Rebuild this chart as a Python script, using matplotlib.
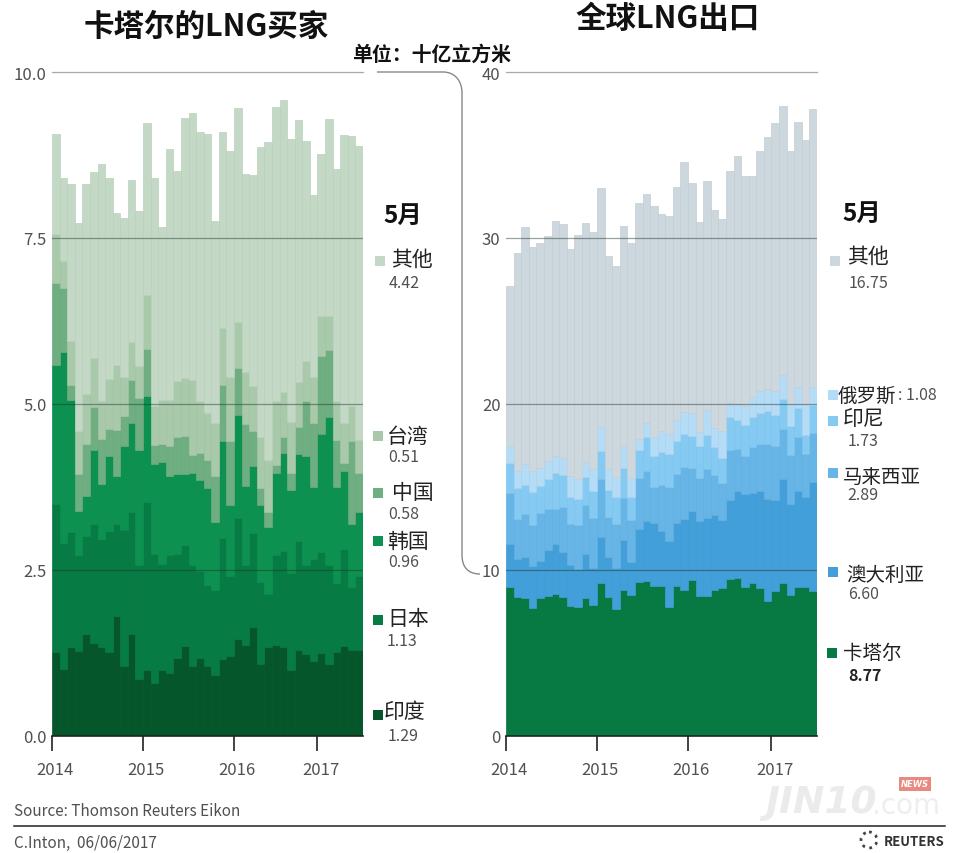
import matplotlib
matplotlib.use("Agg")
import matplotlib.pyplot as plt
import numpy as np
from matplotlib.colors import to_rgb
from matplotlib.patches import PathPatch, Rectangle
from matplotlib.path import Path
from matplotlib.transforms import ScaledTranslation

plt.rcParams['font.family'] = ['Noto Sans CJK SC', 'DejaVu Sans']

# monthly data Jan 2014 - May 2017, read as top of each stacked layer
year_ticks = [0, 12, 24, 35]
year_labels = ["2014", "2015", "2016", "2017"]

india = [1.26,1.01,1.34,1.28,1.54,1.40,1.34,1.26,1.81,1.05,1.53,0.86,1.00,0.80,1.00,0.95,1.17,1.36,1.05,1.17,1.05,
         0.92,1.16,1.20,1.46,1.37,1.64,1.08,1.34,1.37,1.34,1.00,1.30,1.24,1.13,1.25,1.08,1.26,1.36,1.29,1.29]
japan = [3.49,2.91,3.07,2.72,3.01,3.19,2.96,3.08,3.19,3.10,3.37,2.57,3.52,2.74,2.59,2.72,2.74,2.87,2.57,2.49,2.28,
         2.20,2.98,2.41,3.28,2.58,3.06,2.32,2.14,2.72,2.79,2.45,2.93,2.58,2.66,2.77,2.58,2.30,2.82,2.25,2.41]
korea = [5.59,5.78,5.06,3.39,3.61,4.31,3.79,4.22,3.91,4.37,4.71,4.30,5.12,4.10,4.13,3.91,3.94,3.95,3.96,3.86,3.74,
         3.22,4.45,3.48,4.84,3.76,4.07,3.48,3.15,3.96,4.26,3.70,4.25,4.21,3.75,4.55,4.80,3.75,3.99,3.19,3.37]
china = [6.82,6.75,5.29,3.94,4.40,4.95,4.47,4.63,4.61,4.82,5.36,5.09,5.83,4.38,4.40,4.36,4.50,4.52,4.23,4.26,4.16,
         3.92,5.28,4.44,5.54,4.70,4.59,3.73,3.38,4.08,4.51,3.96,4.65,5.05,4.72,5.72,5.81,4.46,4.11,4.45,3.96]
taiwan = [7.56,7.15,5.95,4.60,5.15,5.69,5.05,5.38,5.59,5.41,5.93,5.57,6.64,4.97,5.06,5.06,5.35,5.39,5.36,5.04,4.86,
          4.72,6.14,5.40,6.23,5.48,5.27,4.50,4.16,5.04,5.18,4.73,5.33,5.65,5.40,6.33,6.33,5.05,4.71,4.97,4.46]
buyers_other = [9.06,8.41,8.32,7.73,8.31,8.50,8.61,8.41,7.88,7.80,8.37,7.90,9.23,8.40,7.67,8.84,8.51,9.31,9.39,9.10,9.07,
                7.76,9.10,8.81,9.46,8.46,8.45,8.87,8.94,9.47,9.58,8.99,9.27,8.96,8.15,8.76,9.29,8.54,9.05,9.04,8.88]

qatar = [9.00,8.37,8.29,7.71,8.29,8.45,8.57,8.37,7.85,7.75,8.33,7.89,9.20,8.35,7.63,8.82,8.49,9.28,9.36,9.06,9.02,
         7.75,9.06,8.78,9.42,8.43,8.41,8.82,8.90,9.46,9.52,8.96,9.22,8.90,8.11,8.71,9.24,8.47,9.00,8.96,8.71]
australia = [11.55,10.66,10.80,10.22,10.56,11.20,11.55,11.10,10.30,10.04,10.98,10.10,11.99,10.78,10.12,11.81,10.46,12.47,12.97,12.83,12.35,
             11.73,12.83,13.07,13.57,12.95,13.13,13.31,13.01,14.24,14.74,14.56,14.64,14.74,14.28,14.24,15.48,14.00,14.74,14.40,15.32]
malaysia = [14.64,13.07,13.37,12.71,13.43,13.65,13.67,13.80,12.77,12.71,13.92,13.11,15.48,13.19,12.77,14.34,13.01,15.52,15.94,15.00,15.12,
            15.00,15.78,16.18,16.14,15.54,16.08,15.70,15.24,17.23,17.29,16.85,17.39,17.57,17.59,17.47,18.47,16.93,18.01,16.99,18.23]
indonesia = [16.43,14.94,15.10,14.72,15.08,15.48,15.82,15.72,14.38,14.28,15.62,14.74,17.15,14.84,14.40,16.12,14.40,17.23,17.99,16.85,17.13,
             16.99,17.77,18.17,18.09,17.47,18.15,17.39,16.75,19.24,19.06,18.73,19.20,19.48,19.56,19.32,20.30,18.69,19.76,18.15,19.95]
russia = [17.49,15.94,16.37,15.94,16.12,16.55,16.85,16.73,15.64,15.48,16.49,16.08,18.59,16.08,15.58,17.45,15.56,17.91,18.86,17.99,18.35,
          18.19,19.06,19.50,19.46,18.29,19.64,18.53,18.35,20.06,20.00,19.90,20.40,20.80,20.90,20.80,21.75,20.00,21.00,20.00,21.00]
export_other = [27.13,29.10,30.68,29.44,29.68,30.12,31.00,30.84,29.36,30.20,30.90,30.34,32.99,28.90,28.33,30.70,29.70,32.09,32.63,31.95,31.45,
                31.34,33.05,34.56,33.31,30.98,33.45,31.69,31.14,34.04,34.96,33.75,33.71,35.24,36.10,36.93,37.95,35.24,36.97,35.88,37.77]

buyer_tops = [india, japan, korea, china, taiwan, buyers_other]
buyer_colors = ["#05562b", "#067b44", "#0c9150", "#6eae80", "#a9c9ab", "#c3d9c5"]
export_tops = [qatar, australia, malaysia, indonesia, russia, export_other]
export_colors = ["#067a42", "#429fd9", "#66b5e6", "#84caf3", "#b4dcf6", "#cdd7de"]

W, H = 956, 854
GREY = "#505050"


def stacked(box, tops, colors, ymax, yticks, ylabels):
    x0, x1 = box
    ax = fig.add_axes([x0 / W, (H - 737) / H, (x1 - x0) / W, 664 / H])
    months = np.arange(len(tops[0]))
    bottom = np.zeros(len(months))
    for top, color in zip(tops, colors):
        top = np.array(top)
        # edge a touch darker than the fill, so the white does not show between bars
        edge = tuple(c * 0.96 for c in to_rgb(color))
        ax.bar(months, top - bottom, bottom=bottom, width=1, align="edge", color=color,
               edgecolor=edge, linewidth=0.5, zorder=2)
        bottom = top
    for y in yticks[1:-1]:
        ax.axhline(y, color=(0.1, 0.2, 0.15, 0.45), lw=0.9, zorder=3)
    ax.axhline(yticks[-1], color="#a8a8a8", lw=0.9, zorder=3, clip_on=False)
    ax.set_xlim(0, len(months))
    ax.set_ylim(0, ymax)
    ax.set_yticks(yticks)
    ax.set_yticklabels(ylabels, fontsize=12, color=GREY)
    ax.tick_params(axis="y", length=0, pad=4)
    ax.set_xticks(year_ticks)
    ax.set_xticklabels(year_labels, fontsize=12, color=GREY)
    ax.tick_params(axis="x", length=11, width=1.2, color="#222222", pad=7)
    shift = ScaledTranslation(3 / 100, 0, fig.dpi_scale_trans)
    for lab in ax.get_xticklabels():
        lab.set_transform(lab.get_transform() + shift)
    for side in ["top", "right", "left"]:
        ax.spines[side].set_visible(False)
    ax.spines["bottom"].set_color("#222222")
    ax.spines["bottom"].set_linewidth(1.2)
    ax.patch.set_alpha(0)
    return ax


fig = plt.figure(figsize=(W / 100, H / 100), dpi=100)
stacked((52, 363), buyer_tops, buyer_colors, 10, [0, 2.5, 5, 7.5, 10], ["0.0", "2.5", "5.0", "7.5", "10.0"])
stacked((506, 817), export_tops, export_colors, 40, [0, 10, 20, 30, 40], ["0", "10", "20", "30", "40"])

# overlay in pixel coordinates for all the annotation
ov = fig.add_axes([0, 0, 1, 1], zorder=5)
ov.set_xlim(0, W)
ov.set_ylim(H, 0)
ov.axis("off")


def label(x, y, s, size=12, weight="normal", color=GREY, ha="left"):
    ov.text(x, y + 2, s, fontsize=size, fontweight=weight, color=color, ha=ha, va="center")


label(206, 25, "卡塔尔的LNG买家", 22, "bold", "#111111", "center")
label(668, 17, "全球LNG出口", 22, "bold", "#111111", "center")
label(432, 52, "单位：十亿立方米", 14.3, "bold", "#111111", "center")

# connector between the two panels
verts = [(377, 73), (443, 73), (455, 73), (462, 82), (462, 94), (462, 556), (462, 568), (468, 575), (480, 575)]
codes = [Path.MOVETO, Path.LINETO, Path.CURVE4, Path.CURVE4, Path.CURVE4, Path.LINETO, Path.CURVE4, Path.CURVE4, Path.CURVE4]
ov.add_patch(PathPatch(Path(verts, codes), fill=False, edgecolor="#888888", lw=1))

label(403, 214, "5月", 17.5, "bold", "#111111", "center")
label(862, 212, "5月", 17.5, "bold", "#111111", "center")

buyer_names = ["其他", "台湾", "中国", "韩国", "日本", "印度"]
buyer_vals = ["4.42", "0.51", "0.58", "0.96", "1.13", "1.29"]
buyer_sq = [(380, 262), (378, 437), (378, 494), (378, 542), (378, 621), (378, 716)]
buyer_txt = [(391, 258), (387, 435), (392, 491), (387, 540), (387, 617), (384, 710)]
buyer_val = [(389, 282), (388, 456), (388, 513), (388, 561), (387, 640), (388, 735)]
for i, name in enumerate(buyer_names):
    c = buyer_colors[::-1][i]
    ov.add_patch(Rectangle((buyer_sq[i][0] - 5, buyer_sq[i][1] - 5), 10, 10, color=c, lw=0))
    label(*buyer_txt[i], name, 15, color="#222222")
    label(*buyer_val[i], buyer_vals[i], 11.5)

export_names = ["其他", "俄罗斯", "印尼", "马来西亚", "澳大利亚", "卡塔尔"]
export_vals = ["16.75", ": 1.08", "1.73", "2.89", "6.60", "8.77"]
export_sq = [(835, 262), (833, 396), (833, 422), (833, 474), (833, 573), (832, 654)]
export_txt = [(847, 255), (838, 394), (843, 417), (843, 475), (846, 573), (843, 652)]
export_val = [(849, 282), (898, 394), (848, 440), (847, 494), (848, 593), (848, 674)]
for i, name in enumerate(export_names):
    c = export_colors[::-1][i]
    ov.add_patch(Rectangle((export_sq[i][0] - 5, export_sq[i][1] - 5), 10, 10, color=c, lw=0))
    label(*export_txt[i], name, 14 if i in (1, 3, 4, 5) else 15, color="#222222")
    if i == 5:
        label(*export_val[i], export_vals[i], 11.5, "bold", "#222222")
    else:
        label(*export_val[i], export_vals[i], 11.5)

# footer
label(14, 810, "Source: Thomson Reuters Eikon", 11)
ov.plot([14, 945], [827, 827], color="#222222", lw=1.1)
label(14, 841, "C.Inton,  06/06/2017", 11)
label(884, 840, "REUTERS", 9.5, "bold", "#333333")
ov.add_patch(plt.Circle((869, 841), 8, fill=False, edgecolor="#444444", lw=2, linestyle=":"))

# watermark
ov.text(765, 803, "JIN10", fontsize=27, fontstyle="oblique", fontweight="bold", family="DejaVu Sans", color="#ebebeb", va="center")
ov.text(872, 806, ".com", fontsize=20, color="#eeeeee", va="center", family="DejaVu Sans")
ov.text(915, 785, "NEWS", fontsize=6, fontstyle="oblique", fontweight="bold", family="DejaVu Sans", color="white", ha="center", va="center",
        bbox=dict(facecolor="#e88a80", edgecolor="none", pad=1.5))

fig.savefig("out.png", dpi=100)
